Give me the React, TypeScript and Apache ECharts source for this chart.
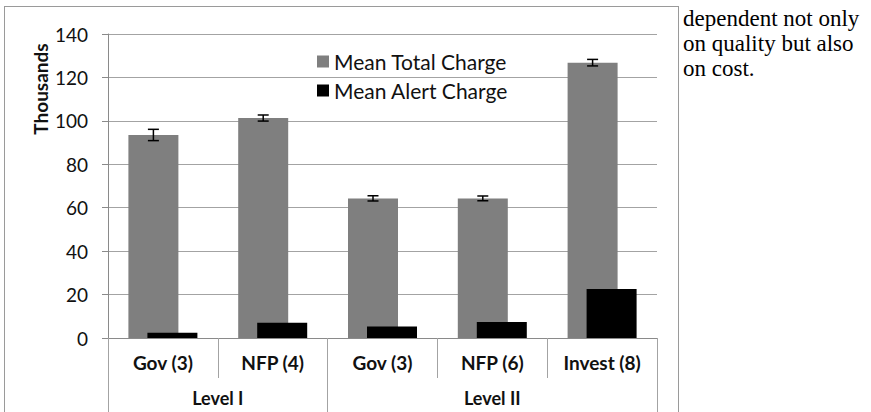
import React, { useEffect, useRef } from "react";
import * as echarts from "echarts";

const categories = ["Gov (3)", "NFP (4)", "Gov (3)", "NFP (6)", "Invest (8)"];
const levels = ["Level I", "Level II"];
const levelSpans = [2, 3];
const meanTotal = [93.5, 101.3, 64.3, 64.3, 126.8];
const totalError = [2.6, 1.4, 1.2, 1.1, 1.5];
const meanAlert = [2.4, 7.0, 5.3, 7.4, 22.6];
const yTicks = { min: 0, max: 140, interval: 20 };
const seriesNames = ["Mean Total Charge", "Mean Alert Charge"];
const sideText = ["dependent not only", "on quality but also", "on cost."];

const BAR_W = 50;
const GAP = -0.62;

export default function App() {
  const ref = useRef<HTMLDivElement>(null);

  useEffect(() => {
    if (!ref.current) return;
    const chart = echarts.init(ref.current, undefined, { renderer: "svg" });

    const bounds: number[] = [0];
    const centers: number[] = [];
    let acc = 0;
    levelSpans.forEach((s) => {
      centers.push(acc + s / 2);
      acc += s;
      bounds.push(acc);
    });

    const font = "Lato, 'DejaVu Sans', sans-serif";
    const gray = "#7f7f7f";
    const lineGray = "#a3a3a3";
    const groupW = BAR_W * 2 + BAR_W * GAP;
    const grayOffset = -groupW / 2 + BAR_W / 2;

    chart.setOption({
      animation: false,
      grid: { left: 108, right: 214, top: 34, bottom: 74, containLabel: false },
      legend: {
        data: seriesNames,
        orient: "vertical",
        left: 312,
        top: 46,
        icon: "rect",
        itemWidth: 12,
        itemHeight: 12,
        itemGap: 8,
        textStyle: { fontFamily: font, fontSize: 21, color: "#111" },
      },
      graphic: [
        {
          type: "text",
          x: 40,
          y: 89,
          rotation: Math.PI / 2,
          style: {
            text: "Thousands",
            fontFamily: font,
            fontWeight: "bold",
            fontSize: 19,
            fill: "#111",
            align: "center",
            verticalAlign: "middle",
          },
        },
      ],
      xAxis: [
        {
          type: "category",
          data: categories,
          axisLine: { show: true, lineStyle: { color: "#8a8a8a", width: 1 } },
          axisTick: { show: true, length: 40, inside: false, lineStyle: { color: lineGray } },
          axisLabel: {
            margin: 15,
            fontFamily: font,
            fontWeight: "bold",
            fontSize: 19,
            color: "#111",
            interval: 0,
          },
          splitLine: { show: false },
        },
        {
          type: "value",
          min: 0,
          max: acc,
          position: "bottom",
          offset: 40,
          axisLine: { show: false },
          splitLine: { show: false },
          axisTick: {
            show: true,
            customValues: bounds,
            length: 40,
            lineStyle: { color: lineGray },
          },
          axisLabel: {
            show: true,
            customValues: centers,
            margin: 11,
            fontFamily: font,
            fontWeight: "bold",
            fontSize: 18,
            color: "#111",
            formatter: (v: number) => {
              const i = centers.findIndex((c) => Math.abs(c - v) < 1e-6);
              return i >= 0 ? levels[i] : "";
            },
          },
        },
      ],
      yAxis: {
        type: "value",
        min: yTicks.min,
        max: yTicks.max,
        interval: yTicks.interval,
        axisLine: { show: true, lineStyle: { color: "#8a8a8a" } },
        axisTick: { show: true, length: 6, lineStyle: { color: "#8a8a8a" } },
        axisLabel: { margin: 20, fontFamily: font, fontSize: 19, color: "#111" },
        splitLine: { show: true, lineStyle: { color: lineGray, width: 1 } },
      },
      series: [
        {
          name: seriesNames[0],
          type: "bar",
          data: meanTotal,
          barWidth: BAR_W,
          barGap: GAP * 100 + "%",
          itemStyle: { color: gray },
        },
        {
          name: seriesNames[1],
          type: "bar",
          data: meanAlert,
          barWidth: BAR_W,
          barGap: GAP * 100 + "%",
          itemStyle: { color: "#000" },
        },
        {
          type: "custom",
          name: "err",
          z: 10,
          data: meanTotal.map((v, i) => [i, v - totalError[i], v + totalError[i]]),
          encode: { x: 0, y: [1, 2] },
          renderItem: (params: any, api: any) => {
            const idx = api.value(0);
            const lo = api.coord([idx, api.value(1)]);
            const hi = api.coord([idx, api.value(2)]);
            const x = lo[0] + grayOffset;
            const cw = 5.5;
            const st = { stroke: "#000", lineWidth: 1.5 };
            return {
              type: "group",
              children: [
                { type: "line", shape: { x1: x, y1: lo[1], x2: x, y2: hi[1] }, style: st },
                { type: "line", shape: { x1: x - cw, y1: lo[1], x2: x + cw, y2: lo[1] }, style: st },
                { type: "line", shape: { x1: x - cw, y1: hi[1], x2: x + cw, y2: hi[1] }, style: st },
              ],
            };
          },
        },
      ],
    });

    return () => chart.dispose();
  }, []);

  return (
    <div style={{ position: "fixed", left: 0, top: 0, width: 871, height: 412, overflow: "hidden", background: "#fff" }}>
      <div
        style={{
          position: "absolute",
          left: 4,
          top: 6,
          width: 675,
          height: 430,
          border: "1px solid #9a9a9a",
          boxSizing: "border-box",
        }}
      />
      <div ref={ref} style={{ position: "absolute", left: 0, top: 0, width: 871, height: 412 }} />
      <div
        style={{
          position: "absolute",
          left: 683,
          top: 6,
          fontFamily: "'Liberation Serif', 'Times New Roman', serif",
          fontSize: 23,
          lineHeight: "25px",
          color: "#000",
          whiteSpace: "nowrap",
        }}
      >
        {sideText.map((t, i) => (
          <div key={i}>{t}</div>
        ))}
      </div>
    </div>
  );
}
